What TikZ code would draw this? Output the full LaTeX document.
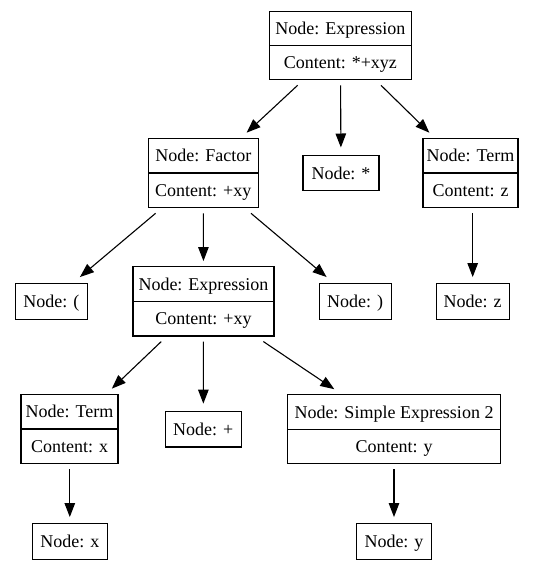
\documentclass[tikz,border=0pt]{standalone}
\usepackage{fontspec}
\setmainfont{Liberation Serif}
\usetikzlibrary{arrows.meta}
\tikzset{
  lbl/.style={font=\fontsize{18}{21}\selectfont, text height=14.4pt, text depth=2pt},
  simple/.style={draw, line width=1.1pt, inner sep=0pt, outer sep=6.3pt, lbl},
  simplenear/.style={simple, outer sep=8pt},
  rec/.style={draw, line width=1.1pt, inner sep=0pt, outer sep=5.6pt},
  rowtxt/.style={inner sep=0pt, lbl},
  divider/.style={line width=1.1pt},
  edge/.style={line width=1.1pt, -{Triangle[length=14pt,width=10.5pt]}},
}
\newcommand{\recbox}[7]{%
  \node[rec, minimum width=#4pt, minimum height=#5pt] (#1) at (#2,#3) {};
  \draw[divider] ([xshift=5.6pt]#1.west) -- ([xshift=-5.6pt]#1.east);
  \node[rowtxt] (#1-a) at ([yshift=#5pt/4]#1.center) {#6};
  \node[rowtxt] (#1-b) at ([yshift=-#5pt/4]#1.center) {#7};
}
\begin{document}
\begin{tikzpicture}[x=1pt,y=1pt]
\useasboundingbox (0,0) rectangle (539,-571);
% records
\recbox{top}{340.4}{-45.5}{142.7}{68.4}{Node: Expression}{Content: *+xyz}
\recbox{factor}{203.3}{-173}{110}{69.4}{Node: Factor}{Content: +xy}
\recbox{termz}{470.5}{-173}{95}{69.4}{Node: Term}{Content: z}
\recbox{expr}{203.5}{-301.3}{141}{69.3}{Node: Expression}{Content: +xy}
\recbox{termx}{69.5}{-429}{97}{69.5}{Node: Term}{Content: x}
\recbox{simple}{394}{-429.3}{213.4}{69}{Node: Simple Expression 2}{Content: y}
% simple nodes
\node[simplenear, minimum width=76pt, minimum height=35pt] (star) at (341,-173) {Node: *};
\node[simple, minimum width=72pt, minimum height=35.7pt] (lpar) at (51.3,-301.2) {Node: (};
\node[simple, minimum width=71.7pt, minimum height=35.7pt] (rpar) at (355.2,-301.2) {Node: )};
\node[simple, minimum width=73.3pt, minimum height=35.7pt] (nodez) at (472.7,-301.2) {Node: z};
\node[simplenear, minimum width=76pt, minimum height=35.3pt] (plus) at (203.3,-429.3) {Node: +};
\node[simple, minimum width=75pt, minimum height=35.7pt] (nodex) at (69.8,-541.2) {Node: x};
\node[simple, minimum width=74.6pt, minimum height=35.7pt] (nodey) at (394,-541.2) {Node: y};
% edges
\draw[edge] (top) -- (factor);
\draw[edge] (top) -- (star);
\draw[edge] (top) -- (termz);
\draw[edge] (factor) -- (lpar);
\draw[edge] (factor) -- (expr);
\draw[edge] (factor) -- (rpar);
\draw[edge] (termz.south -| nodez.north) -- (nodez.north);
\draw[edge] (expr) -- (termx);
\draw[edge] (expr) -- (plus);
\draw[edge] (expr) -- (simple);
\draw[edge] (termx.south -| nodex.north) -- (nodex.north);
\draw[edge] (simple) -- (nodey);
\end{tikzpicture}
\end{document}
